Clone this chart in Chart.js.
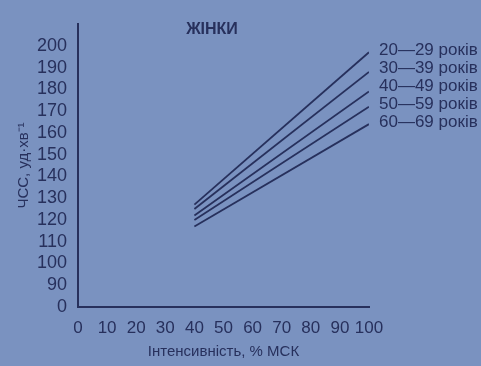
<!DOCTYPE html>
<html>
<head>
<meta charset="utf-8">
<script src="https://cdn.jsdelivr.net/npm/chart.js@4.4.0/dist/chart.umd.min.js"></script>
<style>
    html, body { margin: 0; padding: 0; background: #7a92c0; }
    #wrap { width: 481px; height: 366px; position: relative; }
</style>
</head>
<body>
<div id="wrap"><canvas id="hr-chart"></canvas></div>
<script>
// Дані графіка: ЧСС жінок залежно від інтенсивності
const intensity = [40, 100];
const ageGroups = ['20—29 років', '30—39 років', '40—49 років', '50—59 років', '60—69 років'];
const hr20 = [127, 197];
const hr30 = [125, 188];
const hr40 = [122, 179];
const hr50 = [120, 172];
const hr60 = [117, 164];
const yTicks = [80, 90, 100, 110, 120, 130, 140, 150, 160, 170, 180, 190, 200];
const xTicks = [0, 10, 20, 30, 40, 50, 60, 70, 80, 90, 100];

const ink = '#27305c';
const series = [hr20, hr30, hr40, hr50, hr60];

// Підписи: заголовок і назви вікових груп праворуч
const labelsPlugin = {
    id: 'labelsPlugin',
    afterDraw(chart) {
        const ctx = chart.ctx;
        const area = chart.chartArea;
        ctx.save();
        ctx.fillStyle = ink;
        ctx.font = 'bold 16px "Liberation Sans", Arial, sans-serif';
        ctx.textAlign = 'center';
        ctx.textBaseline = 'middle';
        ctx.fillText('ЖІНКИ', 212, 30);

        const first = chart.getDatasetMeta(0).data[1].y;
        const last = chart.getDatasetMeta(ageGroups.length - 1).data[1].y;
        ctx.font = '17px "Liberation Sans", Arial, sans-serif';
        ctx.textAlign = 'left';
        ageGroups.forEach((name, i) => {
            const y = first + (last - first) * i / (ageGroups.length - 1) - 2;
            ctx.fillText(name, area.right + 10, y);
        });
        ctx.restore();
    }
};

const ctx = document.getElementById('hr-chart').getContext('2d');
new Chart(ctx, {
    type: 'line',
    data: {
        datasets: series.map((vals, i) => ({
            label: ageGroups[i],
            data: intensity.map((x, j) => ({ x: x, y: vals[j] })),
            borderColor: ink,
            borderWidth: 1.8,
            pointRadius: 0,
            tension: 0
        }))
    },
    options: {
        responsive: true,
        maintainAspectRatio: false,
        animation: false,
        layout: { padding: { top: 24, right: 112, left: 0, bottom: 0 } },
        plugins: {
            legend: { display: false },
            tooltip: { enabled: false }
        },
        scales: {
            x: {
                type: 'linear',
                min: 0,
                max: 100,
                afterBuildTicks: axis => { axis.ticks = xTicks.map(v => ({ value: v })); },
                afterFit: axis => { axis.height = 59; },
                grid: { display: false },
                border: { display: true, color: ink, width: 2 },
                ticks: {
                    color: ink,
                    padding: 3,
                    maxRotation: 0,
                    autoSkip: false,
                    font: { family: '"Liberation Sans", Arial, sans-serif', size: 17 }
                },
                title: {
                    display: true,
                    text: 'Інтенсивність, % МСК',
                    color: ink,
                    padding: { top: 0, bottom: 5 },
                    font: { family: '"Liberation Sans", Arial, sans-serif', size: 15 }
                }
            },
            y: {
                type: 'linear',
                min: 80,
                max: 210,
                afterBuildTicks: axis => { axis.ticks = yTicks.map(v => ({ value: v })); },
                afterFit: axis => { axis.width = 78; },
                grid: { display: false },
                border: { display: true, color: ink, width: 2 },
                ticks: {
                    color: ink,
                    padding: 3,
                    autoSkip: false,
                    font: { family: '"Liberation Sans", Arial, sans-serif', size: 18 },
                    // розрив шкали: нижня позначка підписана як 0
                    callback: value => (value === 80 ? '0' : String(value))
                },
                title: {
                    display: true,
                    text: 'ЧСС, уд·хв⁻¹',
                    color: ink,
                    padding: { top: 15, bottom: 0 },
                    font: { family: '"Liberation Sans", Arial, sans-serif', size: 15 }
                }
            }
        }
    },
    plugins: [labelsPlugin]
});
</script>
</body>
</html>
